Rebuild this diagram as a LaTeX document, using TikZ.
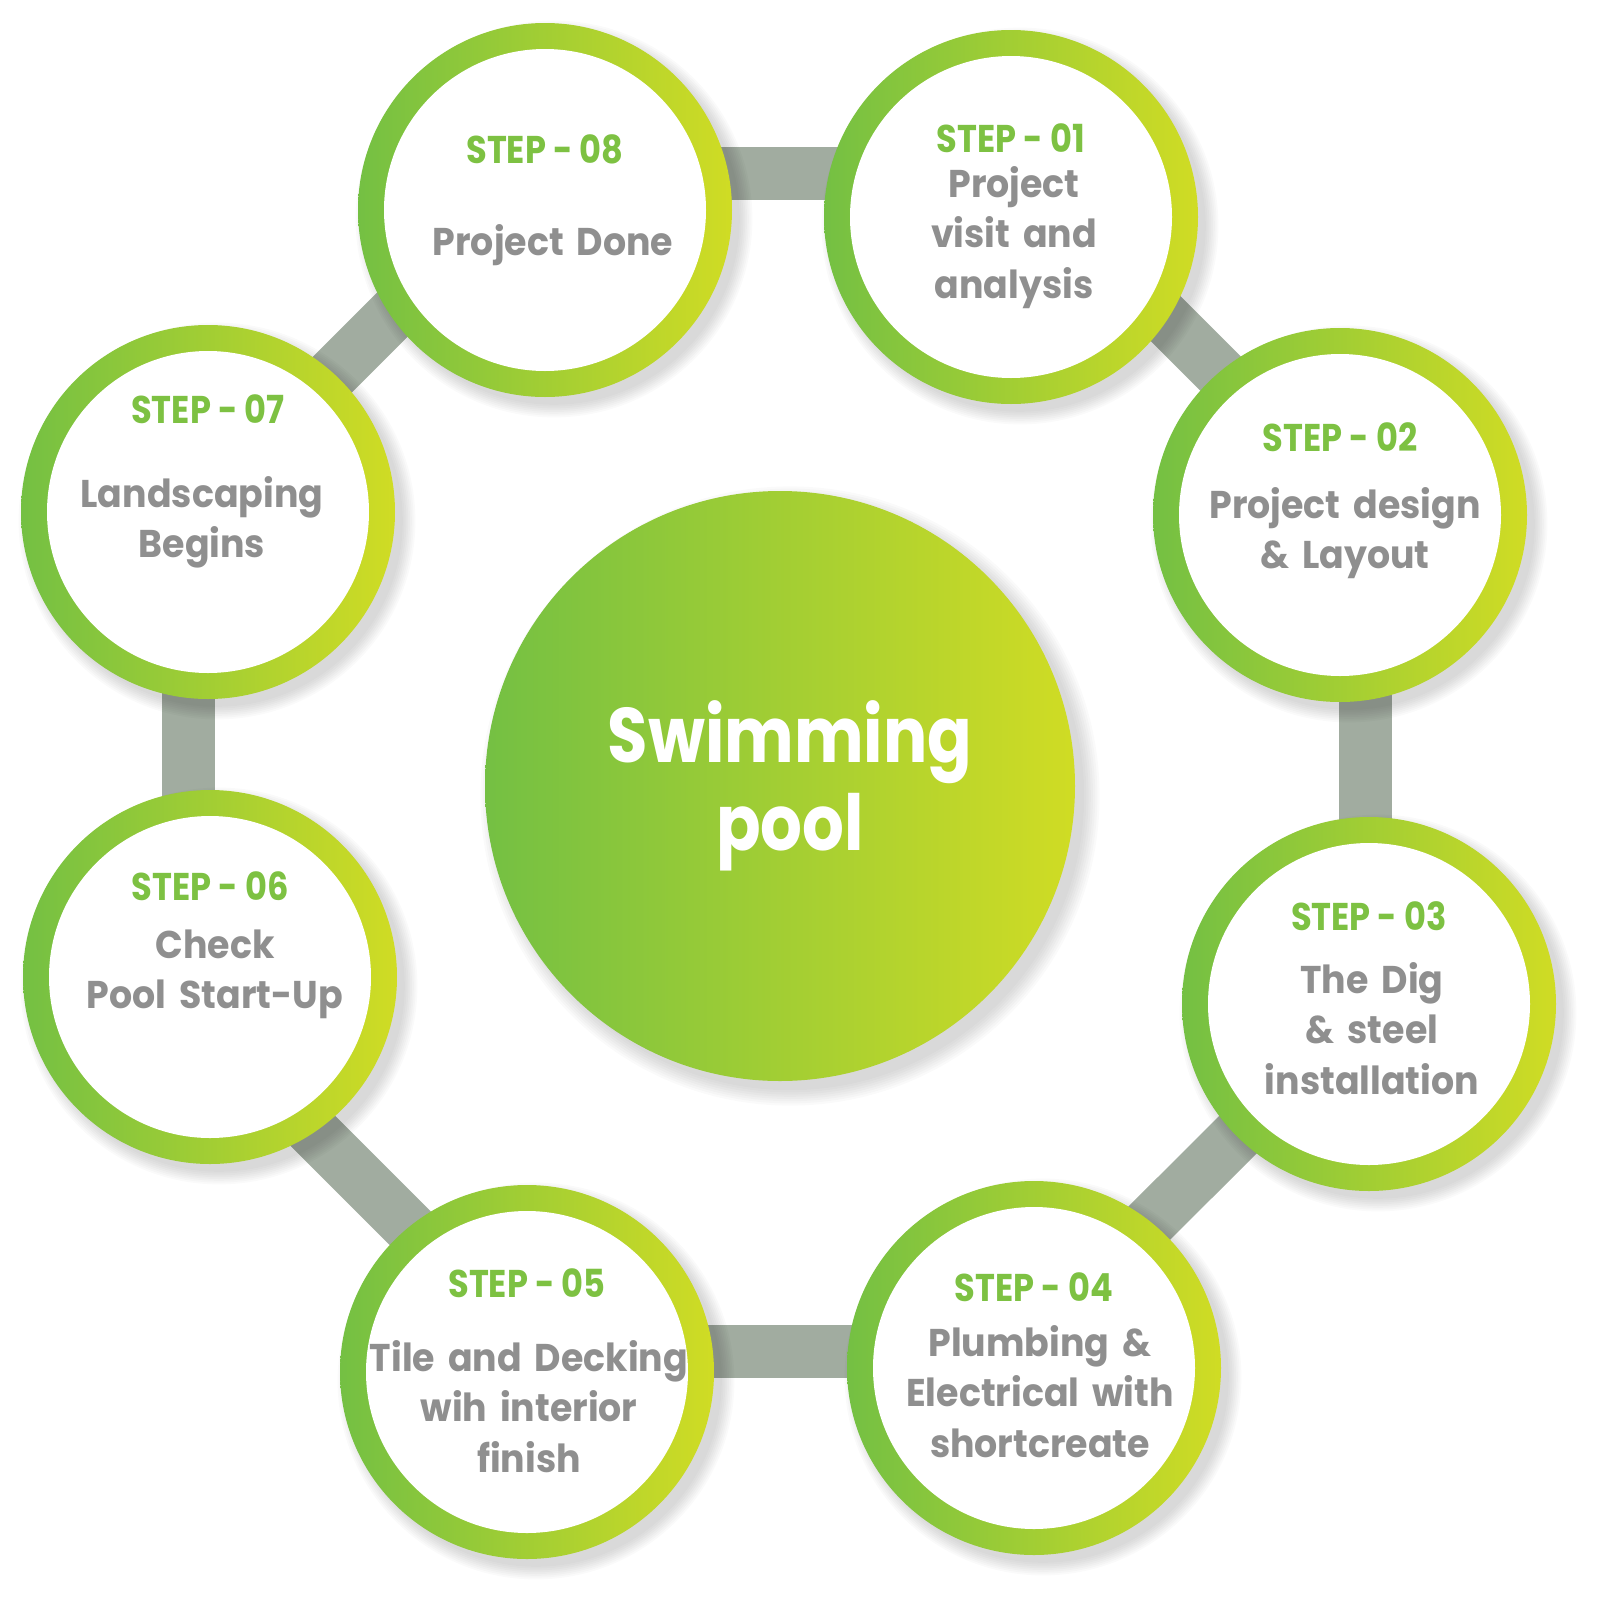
\documentclass[tikz,border=0pt]{standalone}
\usepackage{graphicx}
\usepackage{fontspec}
\setmainfont{Poppins}
\newfontfamily\bodyfont{Poppins}[FakeStretch=0.94]
\newfontfamily\hubfont{Poppins}[FakeStretch=0.85]
\usetikzlibrary{calc}

\definecolor{leafgreen}{RGB}{116,192,67}
\definecolor{limegreen}{RGB}{208,220,36}
\definecolor{steptext}{RGB}{125,193,66}
\definecolor{bodytext}{RGB}{143,143,143}
\definecolor{linkgray}{RGB}{161,172,160}

\newcommand*\ringsize{37.4mm}
\newcommand*\facesize{32.2mm}
\newcommand*\hubsize{59mm}

\pgfdeclarelayer{back}
\pgfsetlayers{back,main}

\tikzset{
    ring/.style={circle, draw=none, inner sep=0pt, minimum size=\ringsize,
        left color=leafgreen, right color=limegreen},
    face/.style={circle, draw=none, inner sep=0pt, minimum size=\facesize, fill=white},
    steplabel/.style={anchor=base, inner sep=0pt, text=steptext,
        font=\bfseries\fontsize{11}{13}\selectfont},
    stepbody/.style={anchor=base, inner sep=0pt, text=bodytext, align=center,
        text width=36mm, font=\bodyfont\bfseries\fontsize{11}{14.5}\selectfont},
    hub/.style={circle, draw=none, inner sep=0pt, minimum size=\hubsize,
        left color=leafgreen, right color=limegreen},
    hubtext/.style={anchor=base, inner sep=0pt, text=white, align=center,
        text width=50mm, font=\hubfont\bfseries\fontsize{22}{25.3}\selectfont},
    link/.style={draw=linkgray, line width=5.3mm},
    shade/.style={fill=black, opacity=0.02}
}

\begin{document}
\begin{tikzpicture}[x=0.1mm,y=-0.1mm]
    \useasboundingbox (0,0) rectangle (1600,1603);

    % The hub in the middle.
    \node[hub] (hub) at (780,786) {};
    \node[hubtext] (title) at ([shift={(10,-24)}]hub.center) {Swimming\\pool};

    % The eight steps: number/x/y/label shift/body x shift/body y shift/text
    \foreach \n/\cx/\cy/\sy/\bx/\by/\body in {
        1/1011/217/-65/3/-20/{Project\\visit and\\analysis},
        2/1340/515/-64/5/3/{Project design\\\& Layout},
        3/1369/1004/-74/3/-11/{The Dig\\\& steel\\installation},
        4/1034/1368/-67/6/-12/{Plumbing \&\\Electrical with\\shortcreate},
        5/527/1372/-75/2/-1/{Tile and Decking\\wih interior\\finish},
        6/210/977/-77/5/-19/{Check\\Pool Start-Up},
        7/208/512/-89/-6/-5/{Landscaping\\Begins},
        8/545/210/-47/8/45/{Project Done}}
    {
        \node[ring] (s\n) at (\cx,\cy) {};
        \node[face] (f\n) at (s\n) {};
        \node[steplabel] (l\n) at ([shift={(0,\sy)}]s\n.center) {\scalebox{0.87}[1]{STEP - 0\n}};
        \node[stepbody] (b\n) at ([shift={(\bx,\by)}]s\n.center) {\body};
    }

    % Links between the steps, behind the rings.
    \begin{pgfonlayer}{back}
        \draw[link] (s8 |- 0,173.5) -- (s1 |- 0,173.5);
        \draw[link] ([shift={(26.5,-26.5)}]s1.center) -- ([shift={(11,-11)}]s2.center);
        \draw[link] (s2 -| 1365,0) -- (s3 -| 1365,0);
        \draw[link] (s3.center) -- ([shift={(-15,-15)}]s4.center);
        \draw[link] (s4 |- 0,1351) -- (s5 |- 0,1351);
        \draw[link] ([shift={(13.5,-13.5)}]s5.center) -- ([shift={(-25.5,25.5)}]s6.center);
        \draw[link] (s6 -| 188.5,0) -- (s7 -| 188.5,0);
        \draw[link] ([shift={(-6.5,-6.5)}]s7.center) -- ([shift={(-24,-24)}]s8.center);

        % Soft shadows.
        \foreach \n in {1,...,8}
            \foreach \k in {1,...,8}
                \fill[shade] ([shift={(9,9)}]s\n.center) circle [radius={18.4mm+0.18mm*\k}];
        \foreach \k in {1,...,8}
            \fill[shade] ([shift={(10,10)}]hub.center) circle [radius={29.2mm+0.22mm*\k}];
    \end{pgfonlayer}
\end{tikzpicture}
\end{document}
